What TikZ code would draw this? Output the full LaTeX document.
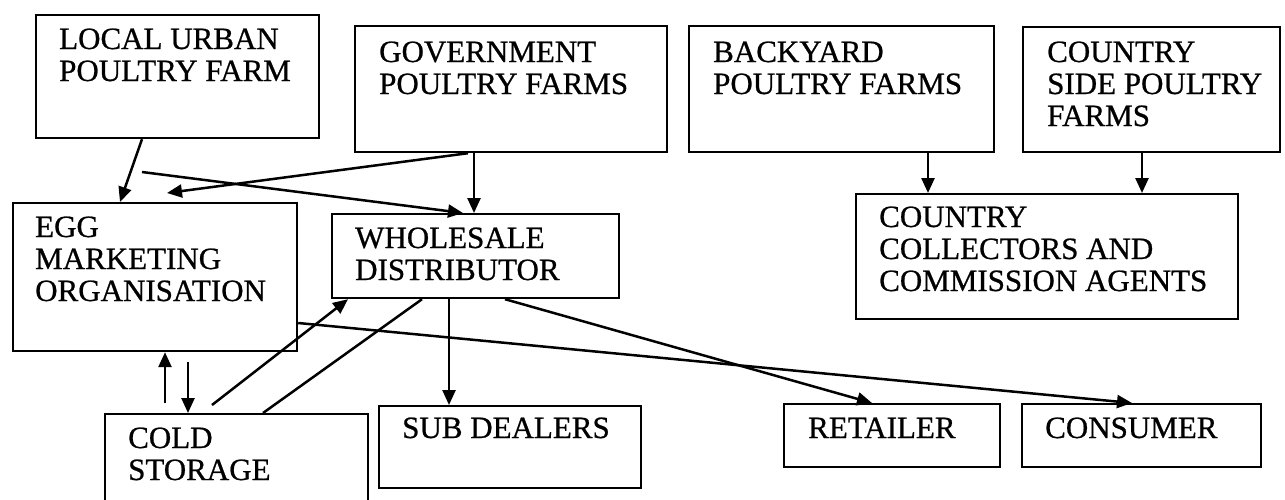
\documentclass[tikz,border=0pt]{standalone}
\usepackage{fontspec}
\setmainfont{Liberation Serif}[UprightFeatures={FakeBold=0.7}]
\usetikzlibrary{arrows.meta,calc}

\tikzset{
  box/.style={draw, line width=2.2pt, inner sep=0pt, anchor=north west},
  txt/.style={anchor=base west, inner sep=0pt, font=\fontsize{31}{32}\selectfont},
  link/.style={line width=2.5pt},
  arr/.style={link, -{Triangle[length=15pt,width=13pt]}}
}

% \boxnode{name}{x1}{y1}{x2}{y2}: empty framed box from top-left to bottom-right
\newcommand{\boxnode}[5]{%
  \pgfmathsetmacro{\bw}{#4-#2}\pgfmathsetmacro{\bh}{#5-#3}%
  \node[box, minimum width=\bw pt, minimum height=\bh pt] (#1) at (#2,#3) {};}

\begin{document}
\begin{tikzpicture}[x=1pt, y=-1pt]
\useasboundingbox (0,0) rectangle (1285,499);

% boxes
\boxnode{lu}{35}{14}{318}{137}
\boxnode{gov}{354}{25}{666}{151}
\boxnode{by}{688}{25}{993}{151}
\boxnode{cs}{1022}{26}{1279}{151}
\boxnode{egg}{12}{202}{296}{350}
\boxnode{wd}{331}{213}{618}{297}
\boxnode{cc}{855}{193}{1237}{318}
\boxnode{cold}{104}{413}{367}{515}
\boxnode{sub}{378}{405}{640}{487}
\boxnode{ret}{783}{403}{999}{466}
\boxnode{con}{1021}{403}{1260}{466}

% labels
\node[txt] (tlu) at (59,49) {\vtop{\hbox{LOCAL URBAN}\hbox{POULTRY FARM}}};
\node[txt] (tgov) at (379,62) {\vtop{\hbox{GOVERNMENT}\hbox{POULTRY FARMS}}};
\node[txt] (tby) at (713,62) {\vtop{\hbox{BACKYARD}\hbox{POULTRY FARMS}}};
\node[txt] (tcs) at (1047,62) {\vtop{\hbox{COUNTRY}\hbox{SIDE POULTRY}\hbox{FARMS}}};
\node[txt] (tegg) at (35,237) {\vtop{\hbox{EGG}\hbox{MARKETING}\hbox{ORGANISATION}}};
\node[txt] (twd) at (355,248) {\vtop{\hbox{WHOLESALE}\hbox{DISTRIBUTOR}}};
\node[txt] (tcc) at (879,227) {\vtop{\hbox{COUNTRY}\hbox{COLLECTORS AND}\hbox{COMMISSION AGENTS}}};
\node[txt] (tcold) at (128,448) {\vtop{\hbox{COLD}\hbox{STORAGE}}};
\node[txt] (tsub) at (402,438) {SUB DEALERS};
\node[txt] (tret) at (808,438) {RETAILER};
\node[txt] (tcon) at (1045,438) {CONSUMER};

% free line ends
\coordinate (u1) at (142,172);
\coordinate (g1) at (167,193);
\coordinate (c1) at (165,403);
\coordinate (c2) at (188,362);
\coordinate (c3) at (212,405);

% connectors
\draw[arr] ($(lu.south west)+(107,0)$) -- ($(egg.north west)+(108,0)$);
\draw[arr] (u1) -- ($(wd.north west)+(132,0)$);
\draw[arr] ($(gov.south west)+(114,0)$) -- (g1);
\draw[arr] ($(gov.south west)+(120,0)$) -- ($(wd.north west)+(143,0)$);
\draw[arr] (c1) -- ($(egg.south west)+(153,0)$);
\draw[arr] (c2) -- ($(cold.north west)+(84,0)$);
\draw[arr] (c3) -- ($(wd.south west)+(17,0)$);
\draw[link] ($(cold.north west)+(159,0)$) -- ($(wd.south west)+(91,0)$);
\draw[arr] ($(wd.south west)+(118,0)$) -- ($(sub.north west)+(71,0)$);
\draw[arr] ($(wd.south west)+(174,0)$) -- ($(ret.north west)+(89,0)$);
\draw[arr] ($(egg.north east)+(0,121)$) -- ($(con.north west)+(111,0)$);
\draw[arr] ($(by.south west)+(240,0)$) -- ($(cc.north west)+(73,0)$);
\draw[arr] ($(cs.south west)+(120,0)$) -- ($(cc.north west)+(287,0)$);
\end{tikzpicture}
\end{document}
